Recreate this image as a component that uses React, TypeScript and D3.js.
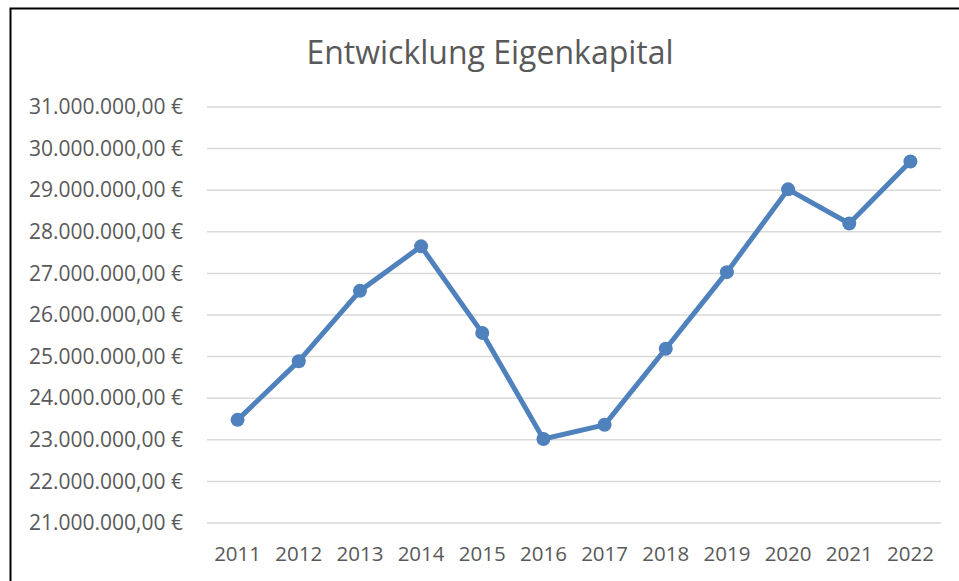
import React, { useEffect, useRef } from 'react';
import * as d3 from 'd3';

const years = ['2011', '2012', '2013', '2014', '2015', '2016', '2017', '2018', '2019', '2020', '2021', '2022'];
const equity = [23480000, 24890000, 26580000, 27650000, 25570000, 23020000, 23360000, 25190000, 27030000, 29020000, 28200000, 29690000];
const yTicks = [21000000, 22000000, 23000000, 24000000, 25000000, 26000000, 27000000, 28000000, 29000000, 30000000, 31000000];

const fmt = (v: number) => {
  const s = Math.round(v).toString().replace(/\B(?=(\d{3})+(?!\d))/g, '.');
  return `${s},00 €`;
};

const App: React.FC = () => {
  const svgRef = useRef<SVGSVGElement>(null);

  useEffect(() => {
    const width = 959;
    const height = 581;
    const left = 207, right = 941, top = 107, bottom = 523;
    const font = '"Open Sans", sans-serif';

    const svg = d3.select(svgRef.current)
      .attr('width', width)
      .attr('height', height);
    svg.selectAll('*').remove();

    svg.append('rect')
      .attr('x', 0).attr('y', 0).attr('width', width).attr('height', height)
      .attr('fill', '#fff');

    // chart frame (right and bottom sides are outside the picture)
    svg.append('rect')
      .attr('x', 10.5).attr('y', 8.5).attr('width', 960).attr('height', 600)
      .attr('fill', 'none').attr('stroke', '#000').attr('stroke-width', 2);

    const x = d3.scaleBand().domain(years).range([left, right]);
    const y = d3.scaleLinear().domain([21000000, 31000000]).range([bottom, top]);

    svg.append('text')
      .attr('x', 490).attr('y', 64)
      .attr('text-anchor', 'middle')
      .attr('font-family', font).attr('font-size', 32)
      .attr('fill', '#595959')
      .text('Entwicklung Eigenkapital');

    const grid = svg.append('g');
    grid.selectAll('line').data(yTicks).enter().append('line')
      .attr('x1', left).attr('x2', right)
      .attr('y1', d => y(d)).attr('y2', d => y(d))
      .attr('stroke', '#d9d9d9').attr('stroke-width', 1.5);

    const yAxis = d3.axisLeft(y).tickValues(yTicks).tickFormat(d => fmt(+d)).tickSize(0).tickPadding(24);
    const ya = svg.append('g').attr('transform', `translate(${left},0)`).call(yAxis);
    ya.select('.domain').remove();
    ya.selectAll('text')
      .attr('font-family', font).attr('font-size', 21).attr('fill', '#595959');

    const xAxis = d3.axisBottom(x).tickSize(0).tickPadding(0);
    const xa = svg.append('g').attr('transform', `translate(0,${bottom})`).call(xAxis);
    xa.select('.domain').remove();
    xa.selectAll('text')
      .attr('y', 38).attr('dy', 0)
      .attr('font-family', font).attr('font-size', 20.5).attr('fill', '#595959');

    const pts = years.map((yr, i) => ({ yr, v: equity[i] }));
    const line = d3.line<{ yr: string; v: number }>()
      .x(d => (x(d.yr) || 0) + x.bandwidth() / 2)
      .y(d => y(d.v));

    svg.append('path')
      .datum(pts)
      .attr('d', line)
      .attr('fill', 'none')
      .attr('stroke', '#4f81bd')
      .attr('stroke-width', 5)
      .attr('stroke-linejoin', 'round');

    svg.append('g').selectAll('circle').data(pts).enter().append('circle')
      .attr('cx', d => (x(d.yr) || 0) + x.bandwidth() / 2)
      .attr('cy', d => y(d.v))
      .attr('r', 7)
      .attr('fill', '#4f81bd');
  }, []);

  return <svg ref={svgRef} style={{ position: 'absolute', left: 0, top: 0 }}></svg>;
};

export default App;
